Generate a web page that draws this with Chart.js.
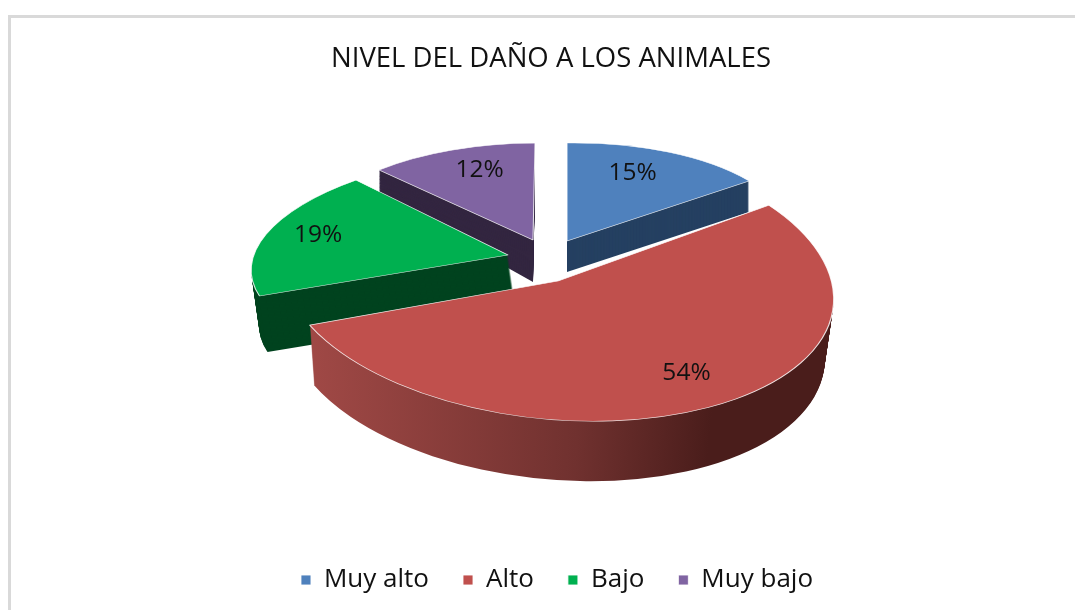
<!DOCTYPE html>
<html lang="es">
<head>
<meta charset="utf-8">
<title>Nivel del daño a los animales</title>
<script src="https://cdn.jsdelivr.net/npm/chart.js@4"></script>
<style>
  html, body { margin: 0; padding: 0; background: #fff; overflow: hidden; height: 610px; }
  #marco { position: absolute; left: 8px; top: 15px; right: 0; bottom: 0; border-left: 3px solid #d9d9d9; border-top: 3px solid #d9d9d9; }
  #grafico { position: absolute; left: 0; top: 0; }
</style>
</head>
<body>
<div id="marco"></div>
<canvas id="grafico" width="1075" height="603"></canvas>
<script>
// Datos
const categorias = ['Muy alto', 'Alto', 'Bajo', 'Muy bajo'];
const valores = [15, 54, 19, 12];
const titulo = 'NIVEL DEL DAÑO A LOS ANIMALES';

// Colores
const colores = ['#4f81bd', '#c0504d', '#00b050', '#8064a2'];
const coloresLado = ['#254061', '#632523', '#00431f', '#332640'];

// Vista 3D de cada porción: matriz [a, b, c, d] y desplazamiento desde el centro de la escena
const centroEscenaY = 280;
const vistas = [
  [225, -3, 0, 98, 29.5, -39],
  [275, 8, 20, 140, 20.5, 1],
  [255, -2.5, -31, 105, -29.5, -25],
  [227, -1, -2, 97, -4.5, -40]
];
// Lado de cada porción: profundidad, corrimiento en x, inclinación, encogimiento
const lados = [
  [31, 0, 0, 1],
  [60, -2, 0, 0.975],
  [56, 8, 0, 1],
  [42, 0, 0.105, 1]
];
const ordenLados = [3, 0, 2, 1];
const radioEtiqueta = [0.72, 0.75, 0.78, 0.75];
const ajusteEtiqueta = [[-8, -4], [16, -3], [-1, -4], [8, -3]];

function aplicarVista(ctx, chart, el, i) {
  const v = vistas[i];
  const R = el.outerRadius;
  ctx.translate(chart.width / 2 + v[4], centroEscenaY + v[5]);
  ctx.transform(v[0] / R, v[1] / R, v[2] / R, v[3] / R, 0, 0);
  ctx.translate(-el.x, -el.y);
}

function pathPorcion(ctx, el) {
  ctx.beginPath();
  ctx.moveTo(el.x, el.y);
  ctx.arc(el.x, el.y, el.outerRadius, el.startAngle, el.endAngle);
  ctx.closePath();
}

const pastel3d = {
  id: 'pastel3d',
  afterLayout(chart) {
    // La leyenda va algo a la derecha del título
    chart.legend.left += 6;
    chart.legend.right += 6;
  },
  beforeDatasetDraw(chart) {
    const ctx = chart.ctx;
    const elementos = chart.getDatasetMeta(0).data;

    // Cada arco se dibuja con su propia vista
    elementos.forEach((el, i) => {
      if (el.conVista) return;
      const drawOriginal = el.draw;
      el.draw = function(c, area) {
        c.save();
        aplicarVista(c, chart, el, i);
        drawOriginal.call(el, c, area);
        c.restore();
      };
      el.conVista = true;
    });

    // Lados: la misma porción repetida hacia abajo
    ordenLados.forEach(i => {
      const el = elementos[i];
      const l = lados[i];
      const v = vistas[i];
      const cx = chart.width / 2 + v[4];
      for (let d = l[0]; d >= 1; d--) {
        const t = d / l[0];
        const esc = 1 - (1 - l[3]) * t;
        ctx.save();
        ctx.translate(l[1] * t, d);
        ctx.transform(esc, l[2] * t, 0, 1, cx * (1 - esc), -l[2] * t * cx);
        aplicarVista(ctx, chart, el, i);
        if (i === 1) {
          const g = ctx.createLinearGradient(el.x - el.outerRadius, 0, el.x + el.outerRadius, 0);
          g.addColorStop(0, '#a34a47');
          g.addColorStop(0.5, '#70312f');
          g.addColorStop(0.75, '#4a1d1b');
          g.addColorStop(1, '#4a1d1b');
          ctx.fillStyle = g;
        } else {
          ctx.fillStyle = coloresLado[i];
        }
        pathPorcion(ctx, el);
        ctx.fill();
        ctx.restore();
      }
    });
  },
  afterDatasetDraw(chart) {
    const ctx = chart.ctx;
    ctx.save();
    ctx.font = '24.5px "Open Sans"';
    ctx.fillStyle = '#111';
    ctx.textAlign = 'center';
    ctx.textBaseline = 'middle';
    chart.getDatasetMeta(0).data.forEach((el, i) => {
      const v = vistas[i];
      const medio = (el.startAngle + el.endAngle) / 2;
      const ux = Math.cos(medio) * radioEtiqueta[i];
      const uy = Math.sin(medio) * radioEtiqueta[i];
      const x = chart.width / 2 + v[4] + v[0] * ux + v[2] * uy + ajusteEtiqueta[i][0];
      const y = centroEscenaY + v[5] + v[1] * ux + v[3] * uy + ajusteEtiqueta[i][1];
      ctx.fillText(valores[i] + '%', x, y);
    });
    ctx.restore();
  }
};

new Chart(document.getElementById('grafico').getContext('2d'), {
  type: 'pie',
  data: {
    labels: categorias,
    datasets: [{
      data: valores,
      backgroundColor: colores,
      borderColor: 'rgba(255,255,255,0.85)',
      borderWidth: 1,
      clip: false
    }]
  },
  options: {
    responsive: false,
    animation: false,
    events: [],
    layout: { padding: { left: 27 } },
    plugins: {
      title: {
        display: true,
        text: titulo,
        color: '#111',
        font: { family: '"Open Sans"', size: 27.5, weight: 'normal' },
        padding: { top: 43, bottom: 20 }
      },
      legend: {
        position: 'bottom',
        labels: {
          boxWidth: 10,
          boxHeight: 10,
          color: '#111',
          padding: 34,
          font: { family: '"Open Sans"', size: 26 }
        }
      },
      tooltip: { enabled: false }
    }
  },
  plugins: [pastel3d]
});
</script>
</body>
</html>
